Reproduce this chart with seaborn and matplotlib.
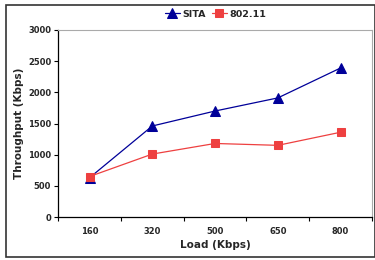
import matplotlib
matplotlib.use("Agg")
import matplotlib.pyplot as plt
import numpy as np
import pandas as pd
import seaborn as sns
from matplotlib.patches import Rectangle

loads = ["160", "320", "500", "650", "800"]
sita = [630, 1460, 1700, 1910, 2390]
wifi = [650, 1010, 1180, 1150, 1360]

sns.set_theme(style="white")
plt.rcParams["font.family"] = ["DejaVu Sans"]

pos = np.arange(len(loads))
figure = plt.figure(figsize=(3.75, 2.6), dpi=100)
axis = figure.add_axes([0.155, 0.165, 0.837, 0.72])

sns.lineplot(x=pos, y=sita, ax=axis, color="#000099", marker="^", markersize=6.5,
             markeredgecolor="#000099", linewidth=0.9, label="SITA")
sns.lineplot(x=pos, y=wifi, ax=axis, color="#EE4040", marker="s", markersize=6,
             markeredgecolor="#EE4040", linewidth=0.9, label="802.11")

axis.set_xlim(-0.5, len(loads) - 0.5)
axis.set_ylim(0, 3000)
axis.set_yticks(range(0, 3001, 500))
axis.set_xticks(pos)
axis.set_xticklabels(loads)
axis.set_xticks(np.arange(-0.5, len(loads)), minor=True)
axis.tick_params(axis="x", which="major", length=0, pad=7, labelsize=6)
axis.tick_params(axis="x", which="minor", length=3, width=0.8, color="black", direction="out")
axis.tick_params(axis="y", length=3, width=0.8, color="black", direction="out", labelsize=6, pad=2)
axis.tick_params(left=True)
axis.tick_params(axis="x", which="minor", bottom=True)
for label in axis.get_xticklabels() + axis.get_yticklabels():
    label.set_fontweight("bold")

axis.spines["left"].set_color("black")
axis.spines["bottom"].set_color("black")
axis.spines["left"].set_linewidth(0.9)
axis.spines["bottom"].set_linewidth(0.9)
axis.spines["top"].set_color("#aaaaaa")
axis.spines["right"].set_color("#aaaaaa")
axis.spines["top"].set_linewidth(0.8)
axis.spines["right"].set_linewidth(0.8)

axis.set_xlabel("Load (Kbps)", fontsize=7.5, fontweight="bold", labelpad=3)
axis.set_ylabel("Throughput (Kbps)", fontsize=7.5, fontweight="bold", labelpad=3)

legend = axis.legend(loc="center", bbox_to_anchor=(0.575, 0.945), bbox_transform=figure.transFigure,
                     ncol=2, frameon=False, fontsize=6.8, handlelength=1.6, handletextpad=0.3,
                     columnspacing=0.6)
for text in legend.get_texts():
    text.set_fontweight("bold")

figure.patches.append(Rectangle((0.016, 0.01), 0.984, 0.97, transform=figure.transFigure,
                                fill=False, edgecolor="#333333", linewidth=1.2))

figure.savefig("out.png", dpi=100)
